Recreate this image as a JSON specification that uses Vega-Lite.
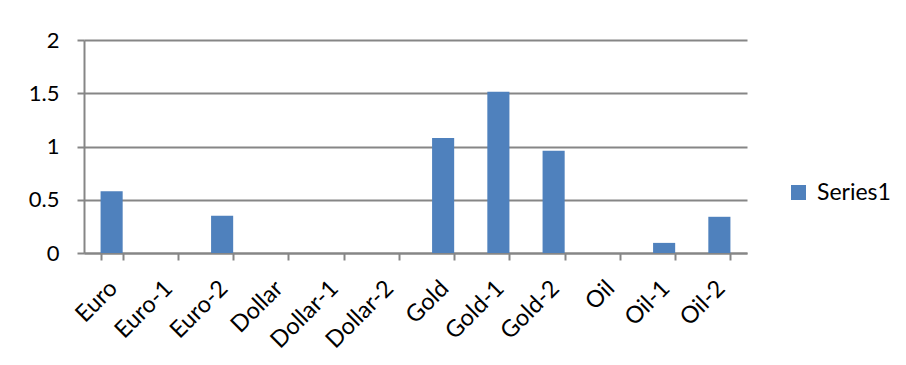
{
  "$schema": "https://vega.github.io/schema/vega-lite/v6.json",
  "width": 663,
  "height": 213,
  "autosize": {"type": "none"},
  "padding": {"left": 84, "top": 40, "right": 159, "bottom": 112},
  "background": "white",
  "config": {
    "view": {"stroke": null},
    "font": "Lato"
  },
  "data": {
    "values": [
      {"item": "Euro", "value": 0.58, "series": "Series1"},
      {"item": "Euro-1", "value": 0, "series": "Series1"},
      {"item": "Euro-2", "value": 0.35, "series": "Series1"},
      {"item": "Dollar", "value": 0, "series": "Series1"},
      {"item": "Dollar-1", "value": 0, "series": "Series1"},
      {"item": "Dollar-2", "value": 0, "series": "Series1"},
      {"item": "Gold", "value": 1.08, "series": "Series1"},
      {"item": "Gold-1", "value": 1.515, "series": "Series1"},
      {"item": "Gold-2", "value": 0.96, "series": "Series1"},
      {"item": "Oil", "value": 0, "series": "Series1"},
      {"item": "Oil-1", "value": 0.095, "series": "Series1"},
      {"item": "Oil-2", "value": 0.34, "series": "Series1"}
    ]
  },
  "mark": {"type": "bar"},
  "encoding": {
    "x": {
      "field": "item",
      "type": "nominal",
      "sort": null,
      "scale": {"paddingInner": 0.6, "paddingOuter": 0.3},
      "axis": {
        "title": null,
        "labelAngle": -45,
        "labelFontSize": 23.5,
        "labelColor": "black",
        "labelPadding": 16,
        "labelOffset": -7,
        "tickBand": "extent",
        "tickSize": 7,
        "tickColor": "#868686",
        "tickWidth": 2,
        "domainColor": "#868686",
        "domainWidth": 2,
        "grid": false
      }
    },
    "y": {
      "field": "value",
      "type": "quantitative",
      "scale": {"domain": [0, 2], "nice": false},
      "axis": {
        "title": null,
        "values": [0, 0.5, 1, 1.5, 2],
        "format": "~g",
        "labelFontSize": 22,
        "labelColor": "black",
        "labelPadding": 18,
        "tickSize": 7,
        "tickColor": "#868686",
        "tickWidth": 2,
        "domainColor": "#868686",
        "domainWidth": 2,
        "gridColor": "#868686",
        "gridWidth": 2,
        "gridOpacity": 1
      }
    },
    "color": {
      "field": "series",
      "type": "nominal",
      "scale": {"range": ["#4f81bd"]},
      "legend": {
        "title": null,
        "orient": "none",
        "legendX": 703,
        "legendY": 141,
        "symbolType": "square",
        "symbolSize": 225,
        "symbolStrokeWidth": 0,
        "labelFontSize": 23,
        "labelColor": "black",
        "labelOffset": 7
      }
    }
  }
}
